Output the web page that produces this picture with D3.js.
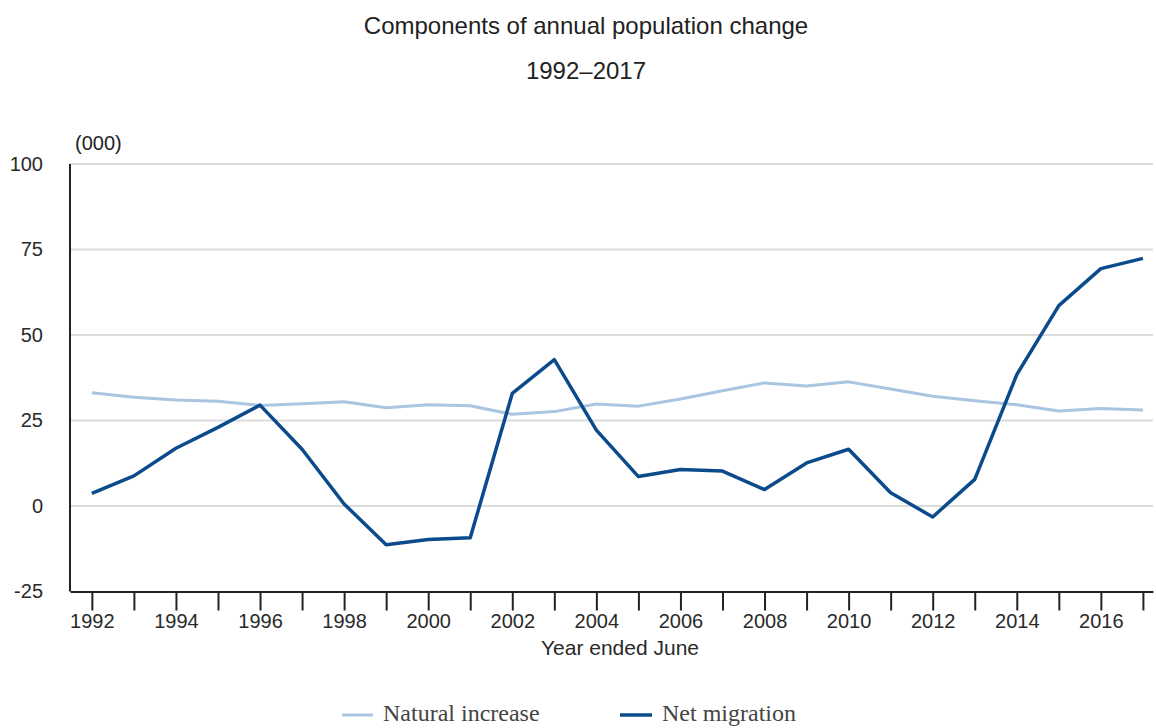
<!DOCTYPE html>
<html lang="en">
	<head>
		<meta charset="UTF-8" />
		<title>Components of annual population change</title>
		<script src="https://d3js.org/d3.v7.min.js"></script>
		<style>
			html,
			body {
				margin: 0;
				background: #fff;
			}
			svg {
				display: block;
				font-family: 'Liberation Sans', Arial, sans-serif;
			}
			.grid line {
				stroke: #dcdcdc;
				stroke-width: 2px;
			}
			.axis path,
			.axis line {
				stroke: #222;
				stroke-width: 2px;
			}
			.axis text {
				fill: #2a2a2a;
				font-size: 20px;
			}
			.line {
				fill: none;
				stroke-linejoin: round;
			}
			.legend text {
				font-family: 'Liberation Serif', 'Times New Roman', serif;
				font-size: 24px;
				fill: #444;
			}
		</style>
	</head>
	<body>
		<svg id="chart" width="1156" height="728"></svg>
		<script type="module">
			// year ended June
			const years = [
				1992, 1993, 1994, 1995, 1996, 1997, 1998, 1999, 2000, 2001, 2002,
				2003, 2004, 2005, 2006, 2007, 2008, 2009, 2010, 2011, 2012, 2013,
				2014, 2015, 2016, 2017,
			];
			// values in thousands
			const naturalIncrease = [
				33.1, 31.8, 31.0, 30.6, 29.4, 29.9, 30.5, 28.7, 29.6, 29.3, 26.8,
				27.6, 29.8, 29.2, 31.3, 33.7, 36.0, 35.1, 36.3, 34.2, 32.1, 30.8,
				29.6, 27.8, 28.5, 28.1,
			];
			const netMigration = [
				3.7, 8.8, 16.9, 23.0, 29.5, 16.6, 0.6, -11.3, -9.8, -9.3, 32.9,
				42.8, 22.2, 8.6, 10.7, 10.2, 4.8, 12.6, 16.6, 3.9, -3.2, 7.8, 38.4,
				58.6, 69.4, 72.4,
			];
			const yTicks = [-25, 0, 25, 50, 75, 100];
			const gridTicks = [0, 25, 50, 75, 100];

			const series = [
				{ name: 'Natural increase', values: naturalIncrease, color: '#a9c5e2', width: 3 },
				{ name: 'Net migration', values: netMigration, color: '#0b4b8b', width: 3.5 },
			];

			const svg = d3.select('#chart');
			const plotLeft = 70;
			const plotRight = 1153;
			const plotTop = 164;
			const plotBottom = 591.5;

			const x = d3
				.scaleLinear()
				.domain([1991.48, 2017.24])
				.range([plotLeft, plotRight]);

			const y = d3
				.scaleLinear()
				.domain([-25, 100])
				.range([plotBottom, plotTop]);

			// titles
			svg
				.append('text')
				.attr('x', 586)
				.attr('y', 34)
				.attr('text-anchor', 'middle')
				.attr('font-size', 24)
				.attr('fill', '#222')
				.text('Components of annual population change');
			svg
				.append('text')
				.attr('x', 586)
				.attr('y', 79)
				.attr('text-anchor', 'middle')
				.attr('font-size', 24)
				.attr('fill', '#222')
				.text('1992\u20132017');

			svg
				.append('text')
				.attr('x', 75)
				.attr('y', 150)
				.attr('font-size', 20)
				.attr('fill', '#222')
				.text('(000)');

			// gridlines
			svg
				.append('g')
				.attr('class', 'grid')
				.selectAll('line')
				.data(gridTicks)
				.enter()
				.append('line')
				.attr('x1', plotLeft)
				.attr('x2', plotRight)
				.attr('y1', (d) => y(d))
				.attr('y2', (d) => y(d));

			// y axis (plain hyphen for negatives, as in the source)
			const yAxis = svg
				.append('g')
				.attr('class', 'axis')
				.attr('transform', `translate(${plotLeft},0)`)
				.call(
					d3
						.axisLeft(y)
						.tickValues(yTicks)
						.tickSize(0)
						.tickPadding(27)
						.tickFormat((d) => String(d)),
				);
			yAxis.select('.domain').attr('d', `M0,${plotTop}V${plotBottom}`);

			// x axis
			svg
				.append('g')
				.attr('class', 'axis')
				.attr('transform', `translate(0,${plotBottom})`)
				.call(
					d3
						.axisBottom(x)
						.tickValues(years)
						.tickSizeInner(19)
						.tickSizeOuter(0)
						.tickPadding(3)
						.tickFormat((d) => (d % 2 === 0 ? d : '')),
				);

			svg
				.append('text')
				.attr('x', 620)
				.attr('y', 655)
				.attr('text-anchor', 'middle')
				.attr('font-size', 21)
				.attr('fill', '#2a2a2a')
				.text('Year ended June');

			// lines
			const line = d3
				.line()
				.x((d, i) => x(years[i]))
				.y((d) => y(d));

			series.forEach((s) => {
				svg
					.append('path')
					.attr('class', 'line')
					.attr('d', line(s.values))
					.attr('stroke', s.color)
					.attr('stroke-width', s.width);
			});

			// legend
			const legendPos = [
				{ x1: 342, x2: 373, tx: 383 },
				{ x1: 620, x2: 652, tx: 662 },
			];
			const legend = svg.append('g').attr('class', 'legend');
			series.forEach((s, i) => {
				const p = legendPos[i];
				legend
					.append('line')
					.attr('x1', p.x1)
					.attr('x2', p.x2)
					.attr('y1', 715)
					.attr('y2', 715)
					.attr('stroke', s.color)
					.attr('stroke-width', s.width);
				legend.append('text').attr('x', p.tx).attr('y', 721).text(s.name);
			});
		</script>
	</body>
</html>
